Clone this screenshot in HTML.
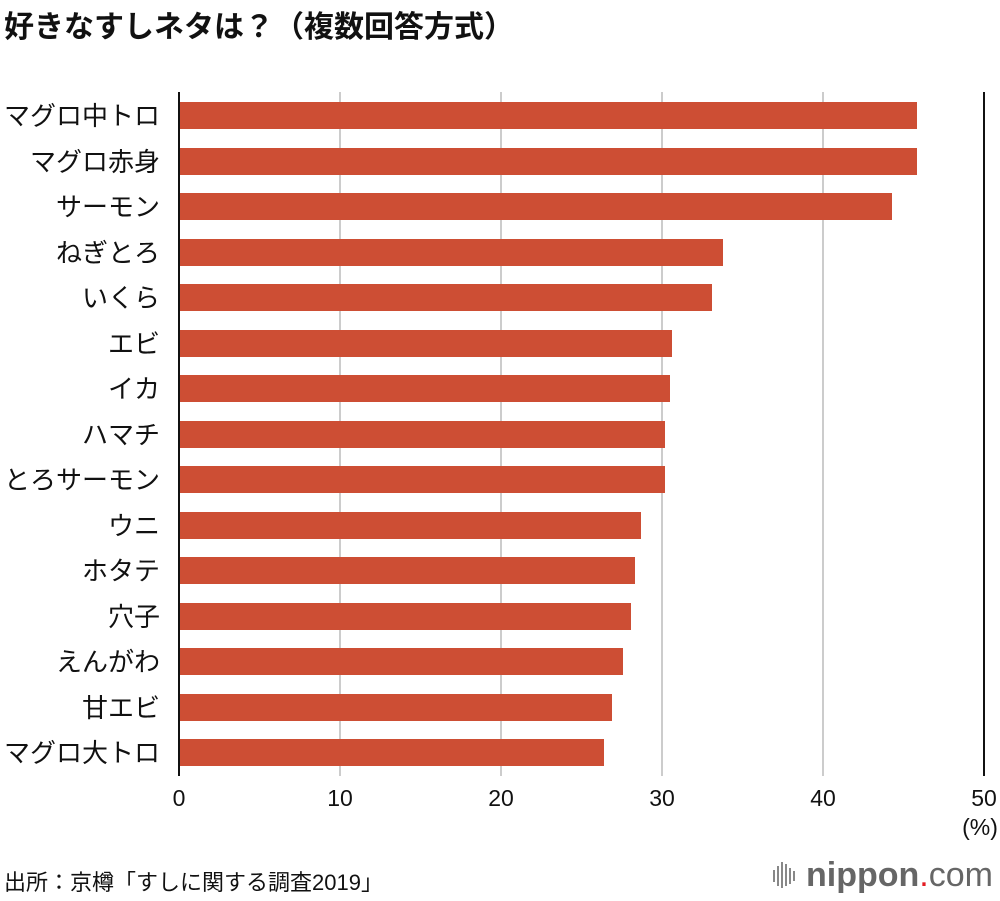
<!DOCTYPE html>
<html><head><meta charset="utf-8"><style>
body{margin:0;background:#fff;width:1000px;height:896px;overflow:hidden;font-family:"Liberation Sans","Noto Sans CJK JP",sans-serif;color:#111}
</style></head><body>
<svg width="1000" height="896" xmlns="http://www.w3.org/2000/svg" font-family="Liberation Sans, Noto Sans CJK JP, sans-serif">
<text x="4" y="37" font-size="30" font-weight="bold" fill="#111">好きなすしネタは？（複数回答方式）</text>
<g stroke="#ccc" stroke-width="2">
<line x1="340" y1="92" x2="340" y2="776"/><line x1="501" y1="92" x2="501" y2="776"/>
<line x1="662" y1="92" x2="662" y2="776"/><line x1="823" y1="92" x2="823" y2="776"/>
</g>
<line x1="984" y1="92" x2="984" y2="776" stroke="#111" stroke-width="2"/>
<g fill="#cd4e34">
<rect x="179" y="102" width="738" height="27"/>
<rect x="179" y="148" width="738" height="27"/>
<rect x="179" y="193" width="713" height="27"/>
<rect x="179" y="239" width="544" height="27"/>
<rect x="179" y="284" width="533" height="27"/>
<rect x="179" y="330" width="493" height="27"/>
<rect x="179" y="375" width="491" height="27"/>
<rect x="179" y="421" width="486" height="27"/>
<rect x="179" y="466" width="486" height="27"/>
<rect x="179" y="512" width="462" height="27"/>
<rect x="179" y="557" width="456" height="27"/>
<rect x="179" y="603" width="452" height="27"/>
<rect x="179" y="648" width="444" height="27"/>
<rect x="179" y="694" width="433" height="27"/>
<rect x="179" y="739" width="425" height="27"/>
</g>
<line x1="179" y1="92" x2="179" y2="776" stroke="#111" stroke-width="2"/>
<g font-size="26" text-anchor="end" fill="#111">
<text x="160" y="125">マグロ中トロ</text>
<text x="160" y="171">マグロ赤身</text>
<text x="160" y="216">サーモン</text>
<text x="160" y="262">ねぎとろ</text>
<text x="160" y="307">いくら</text>
<text x="160" y="353">エビ</text>
<text x="160" y="398">イカ</text>
<text x="160" y="444">ハマチ</text>
<text x="160" y="489">とろサーモン</text>
<text x="160" y="535">ウニ</text>
<text x="160" y="580">ホタテ</text>
<text x="160" y="626">穴子</text>
<text x="160" y="671">えんがわ</text>
<text x="160" y="717">甘エビ</text>
<text x="160" y="762">マグロ大トロ</text>
</g>
<g font-size="23" text-anchor="middle" fill="#111">
<text x="179" y="806">0</text><text x="340" y="806">10</text><text x="501" y="806">20</text>
<text x="662" y="806">30</text><text x="823" y="806">40</text><text x="984" y="806">50</text>
<text x="980" y="835">(%)</text>
</g>
<text x="4" y="890" font-size="22" fill="#111">出所：京樽「すしに関する調査2019」</text>
<g stroke="#888" stroke-width="2">
<line x1="774" y1="870" x2="774" y2="882"/><line x1="778" y1="866" x2="778" y2="886"/>
<line x1="782" y1="862" x2="782" y2="888"/><line x1="786" y1="864" x2="786" y2="886"/>
<line x1="790" y1="868" x2="790" y2="884"/><line x1="794" y1="871" x2="794" y2="881"/>
</g>
<text x="806" y="886" font-size="34" fill="#666"><tspan font-weight="bold">nippon</tspan><tspan fill="#e31c23">.</tspan><tspan>com</tspan></text>
</svg>
</body></html>
